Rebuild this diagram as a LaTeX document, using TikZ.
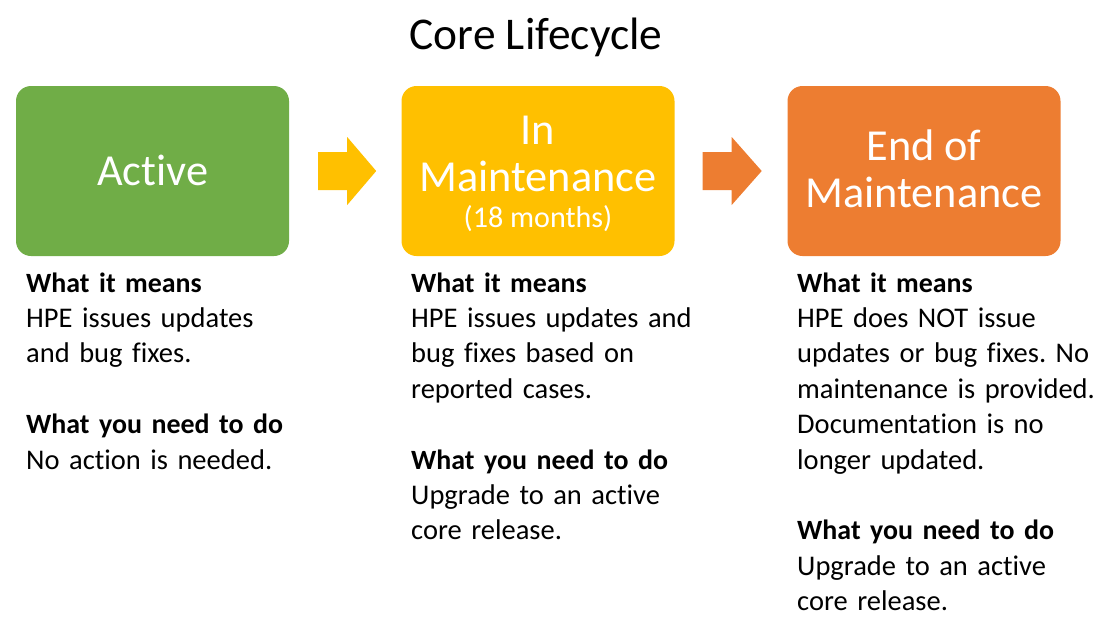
\documentclass[tikz,border=0pt]{standalone}
\usepackage{fontspec}
\setmainfont{Carlito}[Ligatures={NoCommon,NoRequired,NoContextual}]
\usetikzlibrary{calc}
\definecolor{cgreen}{HTML}{70AD47}
\definecolor{cyellow}{HTML}{FFC000}
\definecolor{corange}{HTML}{ED7D31}
\newcommand{\hd}[1]{{\fontsize{27.9}{35.4}\selectfont\bfseries #1}}
\begin{document}
\frenchspacing
\begin{tikzpicture}[x=1pt,y=-1pt,
  stagebox/.style={rounded corners=15pt, minimum width=273pt, minimum height=170pt, inner sep=0pt, draw=none},
  boxlabel/.style={anchor=base, inner sep=0pt, text=white, font=\fontsize{44.3}{47.4}\selectfont},
  boxsub/.style={anchor=base, inner sep=0pt, text=white, font=\fontsize{30.1}{35.4}\selectfont},
  bodytxt/.style={anchor=base west, inner sep=0pt, align=left, text width=320pt, font=\fontsize{28.5}{35.4}\selectfont},
  titletxt/.style={anchor=base, inner sep=0pt, font=\fontsize{45.4}{50}\selectfont}]
\useasboundingbox (0,0) rectangle (1118,638);
\node[titletxt] (title) at (536,49.5) {Core Lifecycle};
% boxes
\node[stagebox, fill=cgreen] (active) at (152.5,171) {};
\node[stagebox, fill=cyellow] (inmaint) at (538,171) {};
\node[stagebox, fill=corange] (endmaint) at (924,171) {};
% box labels
\node[boxlabel] (lactive) at (152.5,185) {Active};
\node[boxlabel] (lin) at (538,144) {In};
\node[boxlabel] (lmaint) at (538,191.5) {Maintenance};
\node[boxsub] (lmonths) at (538,227.5) {(18 months)};
\node[boxlabel] (lend) at (924,160) {End of};
\node[boxlabel] (lendmaint) at (924,207) {Maintenance};
% block arrows
\fill[cyellow] ($(active.east)+(29,-19)$) -- ++(29,0) -- ++(0,-15) -- ++(29,34) -- ++(-29,34) -- ++(0,-15) -- ++(-29,0) -- cycle;
\fill[corange] ($(inmaint.east)+(28,-19)$) -- ++(29,0) -- ++(0,-15) -- ++(30,34) -- ++(-30,34) -- ++(0,-15) -- ++(-29,0) -- cycle;
% column 1
\node[bodytxt] (c1means) at (26,292) {\hd{What it means}\\HPE issues updates\\and bug fixes.};
\node[bodytxt] (c1do) at (26,433.6) {\hd{What you need to do}\\No action is needed.};
% column 2
\node[bodytxt] (c2means) at (411,292) {\hd{What it means}\\HPE issues updates and\\bug fixes based on\\reported cases.};
\node[bodytxt] (c2do) at (411,469) {\hd{What you need to do}\\Upgrade to an active\\core release.};
% column 3
\node[bodytxt] (c3means) at (797,292) {\hd{What it means}\\HPE does NOT issue\\updates or bug fixes. No\\maintenance is provided.\\Documentation is no\\longer updated.};
\node[bodytxt] (c3do) at (797,539.8) {\hd{What you need to do}\\Upgrade to an active\\core release.};
\end{tikzpicture}
\end{document}
